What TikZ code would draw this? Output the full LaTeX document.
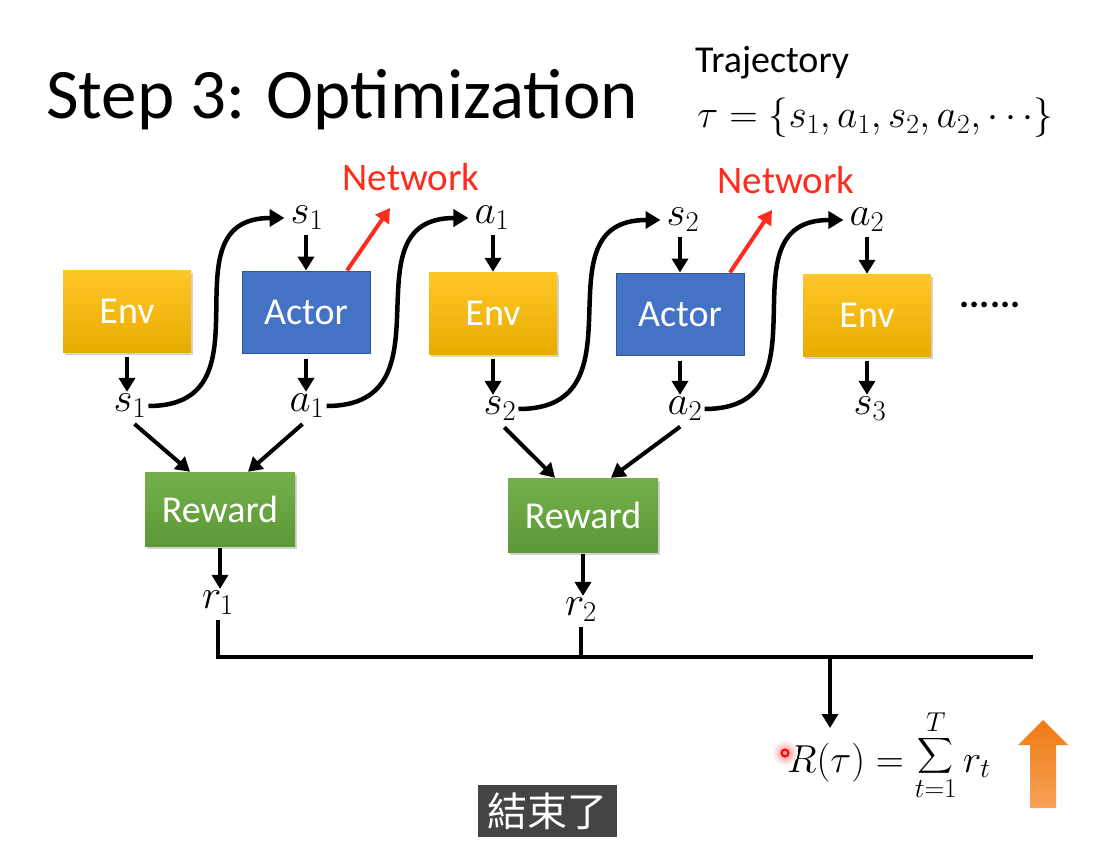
\RequirePackage{fix-cm}
\documentclass[tikz,border=0pt]{standalone}
\usepackage{exscale}
\usepackage{fontspec}
\setmainfont{Carlito}
\newfontfamily\cjkfont{Noto Sans CJK TC}
\usetikzlibrary{arrows.meta,shadows,positioning}

\definecolor{envtop}{HTML}{FFC628}
\definecolor{envbot}{HTML}{E8AC00}
\definecolor{actfill}{HTML}{4472C4}
\definecolor{actline}{HTML}{2F5597}
\definecolor{rewtop}{HTML}{74B04A}
\definecolor{rewbot}{HTML}{5C9836}
\definecolor{netred}{HTML}{FF2B1C}
\definecolor{orgtop}{HTML}{EF7A12}
\definecolor{orgbot}{HTML}{F6A258}
\definecolor{capgrey}{HTML}{444444}

\newcommand{\bigsum}{\mathop{\hbox{\fontsize{64}{68}\selectfont$\displaystyle\sum$}}\limits}

\tikzset{
  box/.style={minimum width=128pt,minimum height=82pt,inner sep=0pt,text=white,
    font=\fontsize{38}{42}\selectfont},
  envbox/.style={box,top color=envtop,bottom color=envbot,
    drop shadow={shadow xshift=2pt,shadow yshift=-3pt,opacity=0.35}},
  actbox/.style={box,fill=actfill,draw=actline,line width=1pt},
  rewbox/.style={box,minimum width=150pt,minimum height=74pt,top color=rewtop,bottom color=rewbot,
    drop shadow={shadow xshift=2pt,shadow yshift=-3pt,opacity=0.35}},
  lbl/.style={font=\fontsize{41}{44}\selectfont,inner sep=2pt},
  net/.style={text=netred,font=\fontsize{39}{42}\selectfont,inner sep=0pt},
  arr/.style={line width=4pt,-{Triangle[length=14pt,width=16pt]}},
  curv/.style={line width=4.5pt,-{Triangle[length=15pt,width=17pt]},shorten >=4pt},
  redarr/.style={netred,line width=4pt,-{Triangle[length=14pt,width=16pt]}},
  bus/.style={line width=4pt},
}

\begin{document}
\begin{tikzpicture}[x=1pt,y=-1pt]
  \useasboundingbox (0,0) rectangle (1099,848);
  % heading
  \node [anchor=base west,inner sep=0pt,font=\fontsize{71}{78}\selectfont] (title) at (46,118) {Step 3: Optimization};
  \node [anchor=base west,inner sep=0pt,font=\fontsize{38}{42}\selectfont] (traj) at (695,73) {Trajectory};
  \node [anchor=base west,inner sep=0pt,font=\fontsize{39.5}{44}\selectfont] (tau) at (697,128) {$\tau=\{s_1,a_1,s_2,a_2,\cdots\}$};
  \node [net] (net1) at (411,177) {Network};
  \node [net] (net2) at (786,180) {Network};
  % boxes
  \node [envbox] (env1) at (127,311) {Env};
  \node [actbox] (act1) at (306,312) {Actor};
  \node [envbox] (env2) at (493,313) {Env};
  \node [actbox] (act2) at (680,314) {Actor};
  \node [envbox] (env3) at (867,315) {Env};
  \node [font=\fontsize{38}{42}\selectfont\bfseries] (dots) at (990,305) {......};
  \node [rewbox] (rew1) at (220,509) {Reward};
  \node [rewbox] (rew2) at (583,515) {Reward};
  % labels
  \node [lbl] (s1t) at (307,218) {$s_1$};
  \node [lbl] (a1t) at (492,218) {$a_1$};
  \node [lbl] (s2t) at (683,220) {$s_2$};
  \node [lbl] (a2t) at (867,220) {$a_2$};
  \node [lbl] (s1b) at (130,406) {$s_1$};
  \node [lbl] (a1b) at (307,406) {$a_1$};
  \node [lbl] (s2b) at (500,409) {$s_2$};
  \node [lbl] (a2b) at (685,409) {$a_2$};
  \node [lbl] (s3b) at (870,409) {$s_3$};
  \node [lbl] (r1) at (218,603) {$r_1$};
  \node [lbl] (r2) at (581,610) {$r_2$};
  \node [anchor=base west,inner sep=0pt,font=\fontsize{39}{44}\selectfont] (ret) at (787,772) {$R(\tau)=\bigsum_{t=1}^{T}r_t$};
  \coordinate (tip1) at (390,208);
  \coordinate (tip2) at (772,210);
  \coordinate (drop) at (830,657);
  \coordinate (busend) at (1033,657);
  \coordinate (rtop) at (830,728);
  % short arrows
  \draw [arr,shorten <=5pt] (env1.south) -- (env1.south |- s1b.north);
  \draw [arr,shorten <=5pt] (env2.south) -- (env2.south |- s2b.north);
  \draw [arr,shorten <=5pt] (env3.south) -- (env3.south |- s3b.north);
  \draw [arr,shorten <=5pt] (act1.south) -- (act1.south |- a1b.north);
  \draw [arr,shorten <=5pt] (act2.south) -- (act2.south |- a2b.north);
  \draw [arr,shorten <=3pt] (s1t.south -| act1.north) -- (act1.north);
  \draw [arr,shorten <=3pt] (a1t.south -| env2.north) -- (env2.north);
  \draw [arr,shorten <=3pt] (s2t.south -| act2.north) -- (act2.north);
  \draw [arr,shorten <=3pt] (a2t.south -| env3.north) -- (env3.north);
  \draw [redarr] ([xshift=41pt]act1.north) -- (tip1);
  \draw [redarr] ([xshift=50pt]act2.north) -- (tip2);
  % curves
  \draw [curv] (s1b.east) to[out=0,in=180,looseness=1.4] (s1t.west);
  \draw [curv] (a1b.east) to[out=0,in=180,looseness=1.4] (a1t.west);
  \draw [curv] (s2b.east) to[out=0,in=180,looseness=1.4] (s2t.west);
  \draw [curv] (a2b.east) to[out=0,in=180,looseness=1.4] (a2t.west);
  % reward
  \draw [arr,shorten <=6pt] (s1b.south) -- ([xshift=-30pt]rew1.north);
  \draw [arr,shorten <=6pt] (a1b.south) -- ([xshift=28pt]rew1.north);
  \draw [arr,shorten <=6pt] (s2b.south) -- ([xshift=-28pt]rew2.north);
  \draw [arr,shorten <=6pt] (a2b.south) -- ([xshift=28pt]rew2.north);
  \draw [arr,shorten <=2pt] (rew1.south) -- (rew1.south |- r1.north);
  \draw [arr,shorten <=2pt] (rew2.south) -- (rew2.south |- r2.north);
  \draw [bus,shorten <=3pt] (r1.south) |- (busend);
  \draw [bus,shorten <=3pt] (r2.south) -- (r2.south |- busend);
  \draw [arr] (drop) -- (rtop);
  % pointer and arrow
  \shade [inner color=red!45,outer color=white] (785,753) circle (13);
  \draw [red,line width=2pt] (785,753) circle (3.5);
  \shade [top color=orgtop,bottom color=orgbot] (1030,808) -- (1030,745) -- (1018,745) -- (1043,720)
    -- (1068,745) -- (1056,745) -- (1056,808) -- cycle;
  % caption
  \node [fill=capgrey,text=white,font=\cjkfont\fontsize{40}{44}\selectfont,minimum width=139pt,
    minimum height=52pt,inner sep=0pt] (cap) at (547,811) {結束了};
\end{tikzpicture}
\end{document}
